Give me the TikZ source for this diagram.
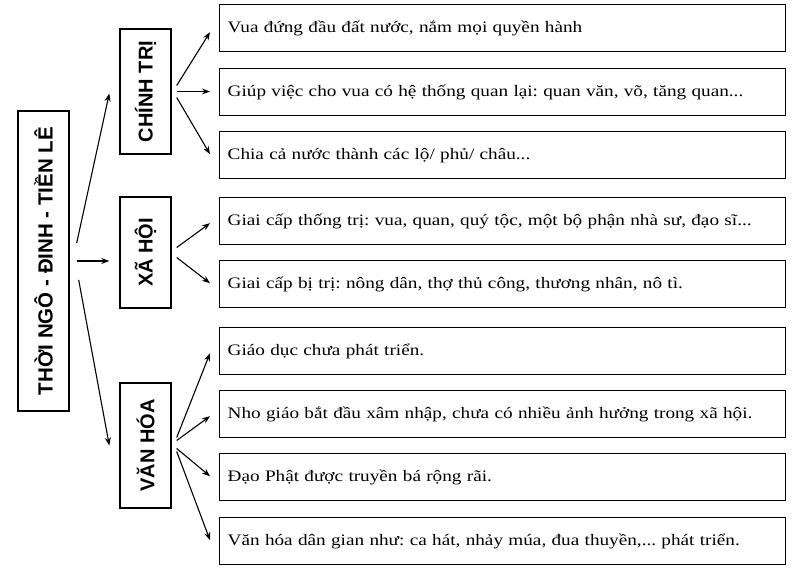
\documentclass[tikz,border=0pt]{standalone}
\usetikzlibrary{arrows.meta}
\usepackage{fontspec}
\setmainfont[FakeStretch=1.2]{Liberation Serif}
\newfontfamily\hd{Liberation Sans}
\frenchspacing
\begin{document}
\begin{tikzpicture}[x=1pt,y=-1pt,
 bx/.style={draw,line width=1.4pt,inner sep=0pt},
 leaf/.style={bx,minimum width=566pt,minimum height=47pt,anchor=north west,text width=550pt,align=left,font=\fontsize{16}{18}\selectfont},
 cattxt/.style={rotate=90,font=\hd\bfseries\fontsize{20}{22}\selectfont},
 ar/.style={-{Stealth[length=8pt,width=6pt]},line width=1.1pt}]
\useasboundingbox (0,0) rectangle (800,572);
\node[bx,minimum width=51pt,minimum height=300pt] (root) at (43.5,261) {};
\node[rotate=90,font=\hd\bfseries\fontsize{20.5}{22}\selectfont] (rt) at (root.center) {THỜI NGÔ - ĐINH - TIỀN LÊ};
\node[bx,minimum width=51pt,minimum height=125pt] (ct) at (145.5,91.5) {};
\node[cattxt] (ctt) at (ct.center) {CHÍNH TRỊ};
\node[bx,minimum width=51pt,minimum height=111pt] (xh) at (145.5,252.5) {};
\node[cattxt] (xht) at (xh.center) {XÃ HỘI};
\node[bx,minimum width=51pt,minimum height=125pt] (vh) at (145.5,445.5) {};
\node[cattxt] (vht) at (vh.center) {VĂN HÓA};
\node[leaf] (l1) at (219,4) {Vua đứng đầu đất nước, nắm mọi quyền hành};
\node[leaf] (l2) at (219,68) {Giúp việc cho vua có hệ thống quan lại: quan văn, võ, tăng quan...};
\node[leaf] (l3) at (219,131) {Chia cả nước thành các lộ/ phủ/ châu...};
\node[leaf] (l4) at (219,197) {Giai cấp thống trị: vua, quan, quý tộc, một bộ phận nhà sư, đạo sĩ...};
\node[leaf] (l5) at (219,260) {Giai cấp bị trị: nông dân, thợ thủ công, thương nhân, nô tì.};
\node[leaf] (l6) at (219,327) {Giáo dục chưa phát triển.};
\node[leaf] (l7) at (219,390) {Nho giáo bắt đầu xâm nhập, chưa có nhiều ảnh hưởng trong xã hội.};
\node[leaf] (l8) at (219,453) {Đạo Phật được truyền bá rộng rãi.};
\node[leaf] (l9) at (219,517) {Văn hóa dân gian như: ca hát, nhảy múa, đua thuyền,... phát triển.};
\coordinate (r1) at ([xshift=7pt,yshift=18pt]root.east);
\coordinate (r2) at ([xshift=7pt]root.east);
\coordinate (r3) at ([xshift=9pt,yshift=-19pt]root.east);
\draw[ar] (r1) -- ([xshift=-10pt,yshift=-2pt]ct.west);
\draw[ar] (r2) -- ([xshift=-10pt]xh.west |- r2);
\draw[ar] (r3) -- ([xshift=-10pt,yshift=0pt]vh.west);
\coordinate (c1) at ([xshift=5pt,yshift=6pt]ct.east);
\coordinate (c2) at ([xshift=5pt]ct.east);
\coordinate (c3) at ([xshift=5pt,yshift=-6pt]ct.east);
\draw[ar] (c1) -- ([xshift=-9pt,yshift=-4pt]l1.west);
\draw[ar] (c2) -- ([xshift=-9pt]l2.west |- c2);
\draw[ar] (c3) -- ([xshift=-9pt,yshift=1pt]l3.west);
\draw[ar] ([xshift=5pt,yshift=5pt]xh.east) -- ([xshift=-9pt,yshift=-2pt]l4.west);
\draw[ar] ([xshift=5pt,yshift=-5pt]xh.east) -- ([xshift=-9pt,yshift=1pt]l5.west);
\draw[ar] ([xshift=5pt,yshift=8pt]vh.east) -- ([xshift=-9pt,yshift=-2pt]l6.west);
\draw[ar] ([xshift=5pt,yshift=5pt]vh.east) -- ([xshift=-9pt,yshift=-2pt]l7.west);
\draw[ar] ([xshift=5pt,yshift=-3pt]vh.east) -- ([xshift=-9pt,yshift=1pt]l8.west);
\draw[ar] ([xshift=5pt,yshift=-6pt]vh.east) -- ([xshift=-9pt,yshift=1pt]l9.west);
\end{tikzpicture}
\end{document}
